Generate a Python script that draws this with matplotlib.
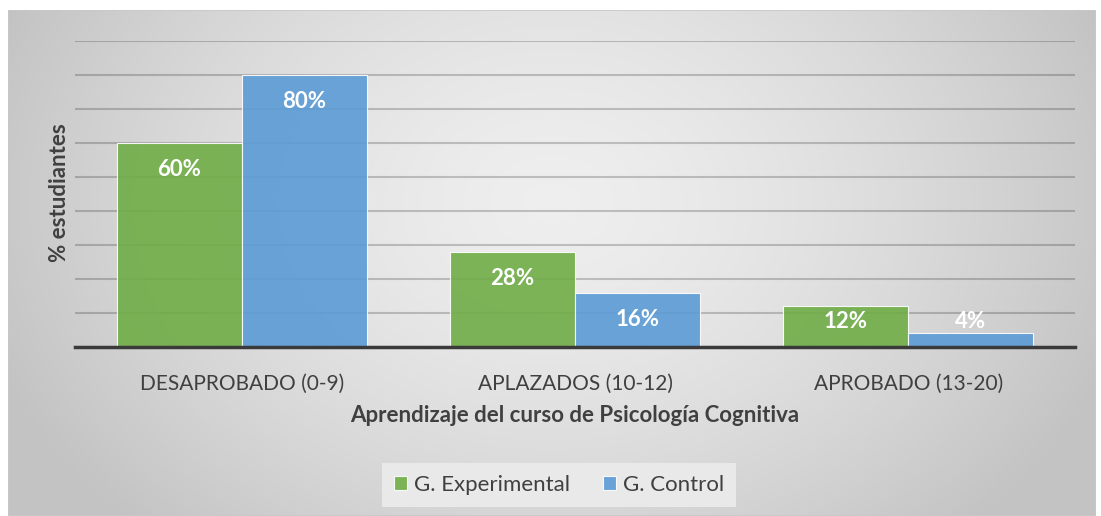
import matplotlib
matplotlib.use("Agg")
import matplotlib.pyplot as plt
from matplotlib.patches import Rectangle
import numpy as np

plt.rcParams['font.family'] = ['Lato', 'DejaVu Sans']

# datos
categorias = ["DESAPROBADO (0-9)", "APLAZADOS (10-12)", "APROBADO (13-20)"]
experimental = [60, 28, 12]
control = [80, 16, 4]
series = ["G. Experimental", "G. Control"]
colores = ["#70AD47", "#5B9BD5"]
texto = "#404040"

W, H = 1101, 516
fig = plt.figure(figsize=(W / 100, H / 100), dpi=100)
fig.patch.set_facecolor("white")

# fondo con degradado radial
bg = fig.add_axes([8 / W, 0, (1096 - 8) / W, (516 - 10) / H], zorder=-5)
yy, xx = np.mgrid[0:1:300j, 0:1:600j]
r = np.sqrt(((xx - 0.5) / 0.55) ** 2 + ((yy - 0.62) / 0.9) ** 2)
r = np.clip(r, 0, 1)
g = 0.935 - (0.935 - 0.765) * r ** 1.5
bg.imshow(np.dstack([g, g, g]), aspect="auto", origin="lower", extent=[0, 1, 0, 1])
bg.set_xlim(0, 1)
bg.set_ylim(0, 1)
bg.axis("off")
bg.add_patch(Rectangle((0, 0), 1, 1, transform=bg.transAxes, fill=False,
                       edgecolor="#c8c8c8", linewidth=1.2))

ax = fig.add_axes([75 / W, (516 - 347) / H, 1000 / W, (347 - 41) / H])
ax.patch.set_alpha(0)
x = np.arange(len(categorias))
ancho = 0.375

b1 = ax.bar(x - ancho / 2, experimental, ancho, color=colores[0], alpha=0.9,
            edgecolor=(1, 1, 1, 0.6), linewidth=0.8, label=series[0], zorder=3)
b2 = ax.bar(x + ancho / 2, control, ancho, color=colores[1], alpha=0.9,
            edgecolor=(1, 1, 1, 0.6), linewidth=0.8, label=series[1], zorder=3)

for barras in (b1, b2):
    for b in barras:
        v = b.get_height()
        ax.text(b.get_x() + b.get_width() / 2, max(v - 7.8, 7.5), f"{v:.0f}%",
                ha="center", va="center", color="white", fontsize=16,
                fontweight="bold", zorder=4)

ax.set_xlim(-0.5, 2.5)
ax.set_ylim(0, 90)
ax.set_yticks(np.arange(0, 91, 10))
ax.yaxis.grid(True, color="#000000", alpha=0.2, linewidth=1.5, zorder=1)
ax.set_axisbelow(True)
ax.tick_params(axis="y", left=False, labelleft=False)
ax.set_xticks(x)
ax.set_xticklabels(categorias, fontsize=15, color=texto)
ax.tick_params(axis="x", length=0, pad=19)
for s in ["top", "right", "left"]:
    ax.spines[s].set_visible(False)
ax.spines["bottom"].set_color("#3a3a3a")
ax.spines["bottom"].set_linewidth(2.5)
ax.spines["bottom"].set_zorder(5)

fig.text(575 / W, 1 - 415 / H, "Aprendizaje del curso de Psicología Cognitiva",
         ha="center", va="center", fontsize=16, fontweight="bold", color=texto)
fig.text(60 / W, 1 - 193 / H, "% estudiantes", rotation=90, ha="center",
         va="center", fontsize=16, fontweight="bold", color=texto)

leg = fig.legend(handles=[b1, b2], labels=series, loc="center",
                 bbox_to_anchor=(559 / W, 1 - 485 / H), ncol=2,
                 prop={"family": ["Lato", "DejaVu Sans"], "size": 16},
                 frameon=True, facecolor="#e9e9e9", edgecolor="none",
                 fancybox=False, handlelength=0.6, handleheight=0.6,
                 handletextpad=0.3, columnspacing=1.5, borderpad=0.55,
                 borderaxespad=0)
leg.get_frame().set_alpha(1)
for t in leg.get_texts():
    t.set_color(texto)

fig.savefig("out.png", dpi=100)
